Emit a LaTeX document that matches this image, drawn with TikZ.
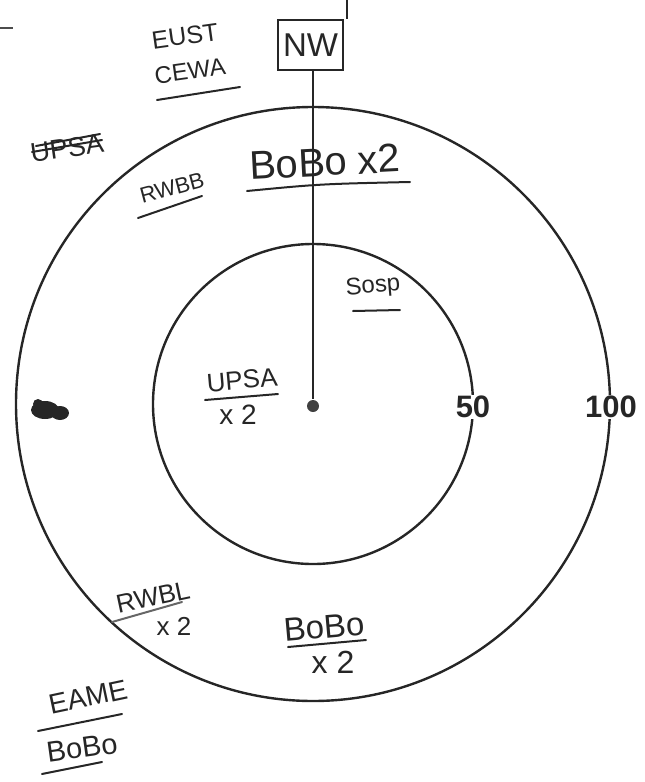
\documentclass[tikz,border=0pt]{standalone}
\usepackage{fontspec}
\setmainfont{Liberation Sans}
\usetikzlibrary{positioning}

\begin{document}
\begin{tikzpicture}[x=1pt,y=-1pt,line width=2.4pt,black!85,
  hand/.style={inner sep=0pt,text=black!85,font=\fontsize{#1}{#1}\selectfont},
  ring/.style={fill=white,inner sep=1pt,font=\bfseries\fontsize{31}{31}\selectfont},
  uline/.style={line width=2pt,line cap=round}]
  \useasboundingbox (0,0) rectangle (645,782);
  \coordinate (ctr) at (313,404);
  \draw (ctr) circle[radius=297];
  \draw (ctr) circle[radius=160];
  \node[circle,fill=black!75,inner sep=0pt,minimum size=12pt] (hub) at (313,406) {};
  \node[draw,line width=2pt,minimum width=65pt,minimum height=50pt,hand=33] (nw) at (310.5,45) {NW};
  \coordinate (top) at (347,0);
  \draw (top) -- (top |- nw.north);
  \draw (hub |- nw.south) -- (hub);
  \draw[line width=2pt,black!70] (0,28) -- (13,28);
  % ring labels
  \node[ring] (r50) at (473,407) {50};
  \node[ring] (r100) at (611,407) {100};
  % outside the rings
  \node[hand=25,rotate=8] (eust) at (185,36) {EUST};
  \node[hand=24,rotate=8] (cewa) at (190,71) {CEWA};
  \draw[uline] (157,100) -- (240,87);
  \node[hand=27,rotate=8] (upsa1) at (67,148) {UPSA};
  \draw[uline] (32,152) -- (102,140);
  \draw[uline] (36,146) -- (100,134);
  \fill (45,410) ellipse[x radius=14,y radius=9];
  \fill (60,413) ellipse[x radius=9,y radius=7];
  \fill (38,404) circle[radius=5];
  \node[hand=28,rotate=12] (eame) at (88,697) {EAME};
  \draw[uline] (38,731) -- (122,714);
  \node[hand=29,rotate=8] (bobo3) at (82,748) {BoBo};
  \draw[uline] (42,774) -- (102,762);
  % outer band
  \node[hand=22,rotate=15] (rwbb) at (172,188) {RWBB};
  \draw[uline] (138,218) -- (202,196);
  \node[hand=40,rotate=3] (bobo1) at (325,162) {BoBo x2};
  \draw[uline] (247,191) .. controls (320,184) .. (410,182);
  \node[hand=26,rotate=12] (rwbl) at (153,597) {RWBL};
  \draw[uline,black!60] (112,622) -- (182,602);
  \node[hand=26] (rwbl2) at (174,626) {x 2};
  \node[hand=33,rotate=5] (bobo2) at (324,627) {BoBo};
  \draw[uline] (288,647) -- (366,640);
  \node[hand=32] (bobo22) at (333,662) {x 2};
  % inner disc
  \node[hand=24,rotate=5] (sosp) at (373,287) {Sosp};
  \draw[uline] (353,311) -- (400,310);
  \node[hand=26,rotate=5] (upsa2) at (242,380) {UPSA};
  \draw[uline] (205,400) -- (278,394);
  \node[hand=28] (upsa22) at (238,415) {x 2};
\end{tikzpicture}
\end{document}
